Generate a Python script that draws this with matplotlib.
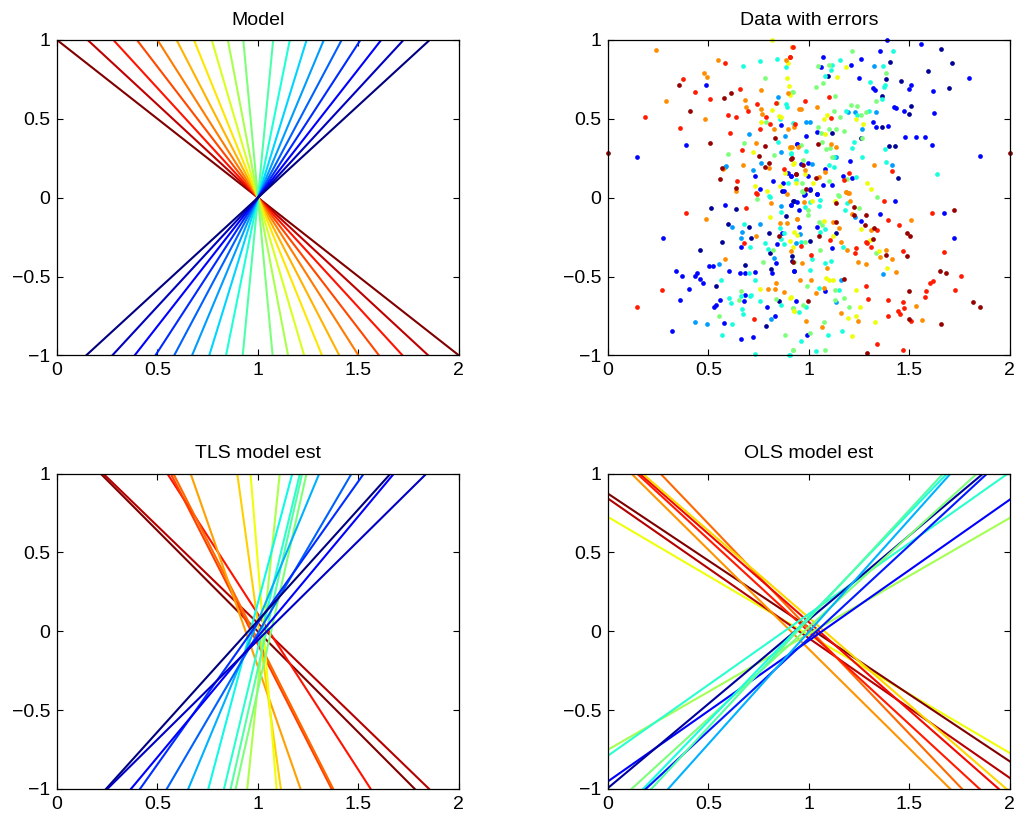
import numpy as np
import matplotlib
matplotlib.use("Agg")
import matplotlib.pyplot as plt

plt.rcParams['font.family'] = ['Liberation Sans', 'DejaVu Sans']

# Model: slopes of the lines through (1, 0)
model_slopes = [-1.0, -1.18, -1.39, -1.66, -2.0, -2.47, -3.14, -4.35, -6.67, -13.7,
                13.2, 6.3, 4.13, 3.05, 2.4, 1.96, 1.63, 1.38, 1.17]

# TLS estimates (slope, intercept, jet colour value)
tls_slope = [-1.279, -1.233, -1.976, -2.497, -2.513, -3.656, -9.217, -15.38,
             12.35, 5.666, 5.618, 5.291, 4.785, 3.067, 2.174, 1.795, 1.528, 1.412, 1.259]
tls_icept = [1.2775, 1.2836, 2.085, 2.413, 2.455, 3.431, 9.268, 15.81,
             -12.69, -6.037, -5.854, -5.397, -4.603, -3.003, -2.187, -1.741, -1.562, -1.344, -1.315]
tls_cval = [1.0, 0.95, 0.89, 0.84, 0.8, 0.74, 0.69, 0.64,
            0.56, 0.5, 0.45, 0.4, 0.37, 0.3, 0.22, 0.17, 0.11, 0.0, 0.06]

# OLS estimates (slope, intercept, jet colour value)
ols_slope = [-0.7485, -0.849, -0.886, -1.26, -1.332, -1.173, -1.119, -1.104,
             0.735, 0.899, 0.8935, 1.068, 1.163, 1.322, 1.177, 1.377, 1.423]
ols_icept = [0.725, 0.873, 0.842, 1.147, 1.348, 1.17, 1.177, 1.19,
             -0.751, -0.789, -0.952, -0.994, -1.136, -1.231, -1.221, -1.297, -1.426]
ols_cval = [0.64, 1.0, 0.95, 0.75, 0.8, 0.88, 0.9, 0.68,
            0.55, 0.4, 0.12, 0.03, 0.5, 0.38, 0.15, 0.45, 0.3]

# Noisy data, grouped by colour
db_x = [1.657, 1.714, 1.594, 1.698, 1.457, 1.406, 1.386, 1.366, 1.499, 1.51, 1.366, 1.097, 1.115, 1.257,
        1.446, 1.398, 1.431, 0.515, 0.636, 0.456, 0.536, 0.566, 0.598, 0.785, 0.813, 0.851, 0.684, 0.916,
        0.918, 0.808, 0.714, 0.7, 0.802, 0.888, 0.924, 0.868, 1.008, 0.921, 1.134, 1.008, 0.926]
db_y = [0.943, 0.856, 0.806, 0.696, 0.738, 0.859, 0.751, 0.645, 0.531, 0.582, 0.451, 0.772, 0.413, 0.381,
        0.123, 0.328, 0.328, -0.063, -0.071, -0.331, -0.563, -0.282, -0.166, -0.812, -0.451, -0.658, -0.427, -0.4,
        -0.373, -0.348, -0.253, -0.183, -0.221, -0.115, -0.024, 0.043, 0.049, -0.02, -0.225, -0.274, -0.462]

b_x = [0.144, 0.387, 0.49, 0.73, 0.822, 0.758, 0.86, 0.871, 0.876, 0.896, 0.912, 0.941,
       1.388, 1.56, 1.796, 1.618, 1.507, 1.496, 1.353, 1.32, 1.329, 1.25, 1.261, 1.208, 1.071, 1.058,
       1.422, 1.435, 1.474, 1.622, 1.317, 1.333, 1.396, 1.041, 0.988, 0.941, 0.959, 0.996, 1.079, 0.913,
       0.996, 1.008, 1.071, 1.117, 1.041, 0.976, 1.17, 1.217, 1.203, 1.477, 1.532, 1.577, 1.612, 1.852,
       0.581, 0.274, 0.34, 0.37, 0.432, 0.443, 0.46, 0.473, 0.403, 0.36, 0.501, 0.523, 0.601, 0.556,
       0.539, 0.528, 0.576, 0.32, 0.68, 0.677, 0.664, 0.722, 0.792, 0.83, 0.684, 0.656, 0.734, 0.818,
       0.838, 0.926, 0.841, 0.66, 0.868, 0.91, 0.951,
       0.98, 1.038, 0.941, 0.91, 0.951, 1.261, 1.427, 1.356, 1.671, 1.724, 1.117, 1.042, 1.082, 0.938, 0.991]
b_y = [0.261, 0.335, 0.715, 0.14, 0.108, 0.054, 0.459, 0.094, 0.045, 0.155, 0.136, 0.34,
       1.0, 0.973, 0.761, 0.679, 0.717, 0.692, 0.932, 0.698, 0.683, 0.759, 0.88, 0.844, 0.89, 0.829,
       0.573, 0.571, 0.55, 0.536, 0.48, 0.447, 0.455, 0.419, 0.394, 0.34, 0.214, 0.218, 0.181, 0.14,
       0.14, 0.054, 0.081, 0.081, 0.022, 0.02, 0.138, 0.127, 0.234, 0.387, 0.387, 0.383, 0.332, 0.263,
       -0.046, -0.257, -0.468, -0.495, -0.495, -0.479, -0.517, -0.538, -0.578, -0.648, -0.432, -0.432, -0.468, -0.652,
       -0.679, -0.694, -0.795, -0.848, -0.616, -0.658, -0.899, -0.884, -0.696, -0.753, -0.479, -0.479, -0.474, -0.479,
       -0.412, -0.464, -0.295, -0.31, -0.225, -0.046, -0.187,
       0.024, 0.024, -0.027, -0.046, -0.077, -0.151, -0.018, -0.103, -0.099, -0.257, -0.32, -0.189, -0.594, -0.658, -0.871]

lb_x = [0.589, 0.581, 0.702, 0.722, 0.763, 0.848, 0.88, 0.863,
        1.323, 1.195, 1.23, 1.336, 1.263, 0.988, 1.004, 1.014, 1.134, 1.412,
        0.553, 0.619, 0.495, 0.435, 0.81, 0.824, 0.664, 0.667, 0.758, 0.934, 0.86,
        1.228, 0.955, 1.162, 1.369, 1.137]
lb_y = [0.202, 0.197, 0.402, 0.176, 0.223, 0.641, 0.39, 0.292,
        0.835, 0.546, 0.546, 0.542, 0.434, 0.48, 0.478, 0.214, 0.259, 0.204,
        -0.419, -0.189, -0.802, -0.789, -0.77, -0.383, -0.257, -0.215, -0.168, -0.285, -0.05,
        -0.12, -0.231, -0.521, -0.483, -0.662]

c_x = [0.672, 0.755, 0.801, 0.842, 0.855, 0.846, 0.896, 0.909, 0.921, 0.893, 0.885, 0.885,
       1.419, 1.378, 1.373, 1.37, 1.303, 1.366, 1.157, 1.115, 1.109, 1.079, 1.184, 1.298, 1.241,
       1.223, 1.217, 0.985, 0.909, 1.124, 1.1, 1.126, 0.938, 1.236, 1.266, 1.383, 1.377, 1.64,
       0.564, 0.569, 0.603, 0.619, 0.614, 0.664, 0.667, 0.672, 0.709, 0.714, 0.755, 0.73, 0.863,
       0.9, 0.7, 0.73, 0.875, 0.797, 0.78, 0.708, 0.675, 0.86, 0.855, 0.875, 0.86, 0.805,
       1.008, 0.98, 1.051, 1.054, 1.19, 1.178, 1.17, 1.079, 1.057, 0.963, 1.017, 1.079, 1.112,
       1.004, 1.049, 1.149, 0.988, 0.951, 1.095, 1.167, 0.963, 1.034, 0.905]
c_y = [0.838, 0.867, 0.011, 0.877, 0.497, 0.355, 0.094, 0.278, 0.472, 0.573, 0.594, 0.827,
       0.928, 0.715, 0.704, 0.835, 0.736, 0.628, 0.871, 0.839, 0.808, 0.772, 0.548, 0.55, 0.525,
       0.355, 0.317, 0.296, 0.281, 0.257, 0.208, 0.193, 0.109, 0.131, 0.261, 0.225, 0.309, 0.151,
       -0.521, -0.874, -0.637, -0.802, -0.669, -0.622, -0.705, -0.737, -0.622, -0.616, -0.654, -0.99, -0.679,
       -1.0, -0.479, -0.521, -0.295, -0.326, -0.288, -0.31, -0.166, -0.263, -0.193, -0.225, -0.094, 0.007,
       -0.025, -0.06, -0.056, -0.014, -0.035, -0.077, -0.314, -0.2, -0.219, -0.284, -0.386, -0.412, -0.399,
       -0.459, -0.574, -0.584, -0.694, -0.728, -0.869, -0.848, -0.912, -0.971, -1.0]

g_x = [0.677, 0.598, 0.78, 0.785, 0.842, 0.826, 0.921,
       1.386, 1.336, 1.216, 1.099, 1.043, 1.071, 1.036, 0.918, 1.13, 1.21, 1.241, 1.286, 1.258, 1.127,
       1.157, 1.046, 1.061, 1.1, 1.137, 1.174, 1.266, 1.104, 1.084, 1.067, 0.962, 0.971, 1.117, 0.968,
       1.1, 0.971, 1.147, 1.192, 1.339,
       0.553, 0.652, 0.664, 0.838, 0.879, 0.921, 0.921, 0.772, 0.924, 0.822, 0.742,
       0.968, 0.997, 0.995, 1.15, 1.25, 1.333, 1.048, 1.067, 0.982, 1.057, 0.991, 1.129, 0.971, 0.921,
       1.129, 1.175, 1.2, 1.074, 1.004, 1.079, 0.921]
g_y = [0.345, 0.276, 0.761, 0.483, 0.603, 0.269, 0.673,
       0.789, 0.613, 0.928, 0.844, 0.837, 0.73, 0.702, 0.673, 0.645, 0.586, 0.582, 0.546, 0.522, 0.55,
       0.51, 0.447, 0.409, 0.436, 0.434, 0.423, 0.377, 0.313, 0.307, 0.355, 0.334, 0.24, 0.261, 0.092,
       0.106, 0.035, 0.014, 0.119, 0.007,
       -0.749, -0.648, -0.59, -0.641, -0.869, -0.7, -0.964, -0.405, -0.405, -0.331, -0.01,
       0.045, -0.077, -0.113, 0.011, -0.067, -0.352, -0.155, -0.172, -0.282, -0.335, -0.559, -0.588, -0.679, -0.7,
       -0.652, -0.637, -0.694, -0.789, -0.859, -0.964, -0.964]

y_x = [0.722, 0.763, 0.73, 0.792, 0.818, 0.818, 0.852, 0.863, 0.855, 0.88, 0.921, 0.906, 0.901, 0.891, 0.896,
       1.183, 1.14, 0.905, 1.089, 1.074, 1.236, 1.27, 1.081, 0.925, 0.983, 0.935, 1.021, 1.291, 1.308,
       0.924, 0.91, 0.758, 0.905, 0.941, 0.805, 0.921,
       1.017, 1.129, 1.261, 1.303, 1.35, 1.121, 1.076, 0.926, 1.087, 1.1, 1.121, 1.391, 1.236, 0.905,
       0.925, 1.253, 1.195, 1.233, 1.329, 1.215]
y_y = [0.292, 0.483, 0.075, 0.045, 1.0, 0.556, 0.519, 0.51, 0.075, 0.155, 0.214, 0.314, 0.705, 0.761, 0.852,
       0.829, 0.766, 0.652, 0.527, 0.497, 0.497, 0.468, 0.404, 0.223, 0.149, 0.094, 0.096, 0.094, 0.058,
       -0.721, -0.633, -0.58, -0.272, -0.236, -0.12, -0.31,
       -0.024, -0.024, -0.2, -0.267, -0.337, -0.242, -0.151, -0.219, -0.51, -0.525, -0.525, -0.447, -0.584, -0.637,
       -0.721, -0.694, -0.76, -0.749, -0.788, -0.88]

o_x = [0.237, 0.29, 0.476, 0.493, 0.483, 0.549, 0.68, 0.685, 0.573, 0.639, 0.672, 0.763, 0.763, 0.768,
       0.739, 0.801, 0.828, 0.892, 0.914, 0.946, 0.894, 0.896, 0.888, 0.951,
       0.918, 0.961, 1.041, 0.926, 1.112, 1.137, 0.905, 1.081, 0.979, 1.049, 1.184, 1.195, 1.325,
       0.49, 0.584, 0.875, 0.83, 0.797, 0.838, 0.91, 0.739, 0.891, 0.858, 0.813, 0.941,
       0.976, 0.941, 1.187, 1.198, 1.203, 1.213, 1.311, 1.51, 1.413, 1.356, 1.386, 1.245, 1.286, 1.191,
       1.162, 1.15, 1.121, 0.966, 1.09, 1.432, 0.958, 1.013, 1.074, 1.037, 1.532, 1.565, 1.162, 1.243,
       1.067, 0.988]
o_y = [0.937, 0.61, 0.789, 0.764, 0.497, 0.873, 0.62, 0.578, 0.18, 0.043, 0.208, 0.683, 0.561, 0.531,
       0.345, 0.187, 0.434, 0.024, 0.324, 0.324, 0.438, 0.662, 0.873, 0.561,
       0.954, 0.561, 0.578, 0.451, 0.339, 0.32, 0.32, 0.16, 0.176, 0.131, 0.037, 0.03, 0.21,
       -0.137, -0.39, -0.601, -0.58, -0.578, -0.538, -0.337, -0.24, -0.158, -0.158, -0.031, -0.137,
       -0.025, -0.137, 0.039, 0.028, -0.02, -0.103, -0.204, -0.14, -0.39, -0.379, -0.335, -0.405, -0.42, -0.331,
       -0.282, -0.193, -0.153, -0.412, -0.443, -0.472, -0.525, -0.521, -0.576, -0.605, -0.69, -0.774, -0.732, -0.781,
       -0.821, -0.781]

r_x = [0.186, 0.373, 0.432, 0.357, 0.51, 0.584, 0.598, 0.639, 0.609, 0.656, 0.697, 0.666, 0.642, 0.742,
       0.788, 0.755, 0.739, 0.835, 0.808, 0.876, 0.905, 0.921,
       0.905, 0.981, 1.1, 1.109, 0.93, 1.2, 1.177, 1.416,
       0.387, 0.689, 0.144, 0.271, 0.725, 0.677, 0.742,
       1.339, 1.291, 1.283, 1.311, 1.373, 1.396, 1.449, 1.612, 1.671, 1.466, 1.233, 1.23, 1.104, 0.963,
       1.009, 1.283, 1.294, 1.394, 1.466, 1.474, 1.446, 1.453, 1.394, 1.582, 1.577, 1.605, 1.618, 1.759,
       1.726, 1.51, 1.339, 1.469]
r_y = [0.514, 0.753, 0.669, 0.44, 0.624, 0.852, 0.525, 0.514, 0.409, 0.688, 0.548, 0.303, 0.106, 0.592,
       0.514, 0.434, 0.028, 0.603, 0.47, 0.18, 0.895, 0.958,
       0.89, 0.612, 0.639, 0.506, 0.468, 0.155, 0.11, 0.17,
       -0.099, -0.067, -0.694, -0.584, -0.77, -0.288, 0.024,
       -0.208, -0.288, -0.284, -0.314, -0.02, -0.14, -0.172, -0.099, -0.346, -0.337, -0.32, -0.352, -0.267, -0.305,
       -0.362, -0.563, -0.641, -0.648, -0.662, -0.7, -0.721, -0.738, -0.749, -0.595, -0.631, -0.542, -0.527, -0.496,
       -0.584, -0.781, -0.928, -0.964]

dr_x = [0.0, 0.354, 0.407, 0.506, 0.576, 0.614, 0.569, 0.556, 0.636, 0.752, 0.78, 0.78, 0.801, 0.83, 0.938, 0.918,
        1.044, 0.913, 0.971, 0.938, 1.034, 0.985, 2.0, 0.85,
        1.137, 1.225, 1.225, 1.283, 1.278, 1.323, 1.32, 1.486, 1.502, 1.721, 1.489, 1.383, 1.137, 1.051,
        0.921, 1.176, 1.497, 1.652, 1.682, 1.817, 1.854, 1.499, 1.659, 1.291, 0.997]
dr_y = [0.282, 0.715, 0.552, 0.345, 0.635, 0.662, 0.187, 0.117, 0.06, 0.265, 0.328, 0.193, 0.219, 0.377, 0.147, 0.25,
        0.339, 0.246, 0.208, 0.149, 0.127, 0.058, 0.282, -0.242,
        -0.035, -0.06, -0.113, -0.113, -0.176, -0.193, -0.261, -0.221, -0.246, -0.077, -0.369, -0.363, -0.155, -0.246,
        -0.405, -0.517, -0.595, -0.464, -0.479, -0.664, -0.694, -0.768, -0.802, -0.985, -0.658]

groups = [(db_x, db_y, 0.02), (b_x, b_y, 0.13), (lb_x, lb_y, 0.28), (c_x, c_y, 0.38),
          (g_x, g_y, 0.5), (y_x, y_y, 0.64), (o_x, o_y, 0.76), (r_x, r_y, 0.88), (dr_x, dr_y, 0.98)]

cmap = plt.get_cmap('jet')
xx = np.array([0.0, 2.0])

fig, axs = plt.subplots(2, 2, figsize=(10.2, 8.21), dpi=100)
fig.subplots_adjust(left=0.0559, right=0.990, bottom=0.039, top=0.9513, wspace=0.371, hspace=0.375)

def style(ax, title):
    ax.set_xlim(0, 2)
    ax.set_ylim(-1, 1)
    ax.set_xticks([0, 0.5, 1, 1.5, 2])
    ax.set_xticklabels(['0', '0.5', '1', '1.5', '2'])
    ax.set_yticks([-1, -0.5, 0, 0.5, 1])
    ax.set_yticklabels(['\u22121', '\u22120.5', '0', '0.5', '1'])
    ax.tick_params(direction='in', top=True, right=True, length=4, width=0.8, labelsize=14, pad=5)
    for s in ax.spines.values():
        s.set_linewidth(0.9)
    ax.set_title(title, fontsize=14, pad=11)

# Model
ax = axs[0, 0]
n = len(model_slopes)
for i, m in enumerate(model_slopes):
    ax.plot(xx, m * (xx - 1), color=cmap(1 - i / (n - 1)), lw=1.5)
style(ax, 'Model')

# Data with errors
ax = axs[0, 1]
for gx, gy, cv in groups:
    ax.plot(gx, gy, 'o', ms=3.4, mec='none', color=cmap(cv), clip_on=False)
style(ax, 'Data with errors')

# TLS
ax = axs[1, 0]
for m, b, cv in zip(tls_slope, tls_icept, tls_cval):
    ax.plot(xx, m * xx + b, color=cmap(cv), lw=1.5)
style(ax, 'TLS model est')

# OLS
ax = axs[1, 1]
for m, b, cv in zip(ols_slope, ols_icept, ols_cval):
    ax.plot(xx, m * xx + b, color=cmap(cv), lw=1.5)
style(ax, 'OLS model est')

fig.savefig('out.png', dpi=100)
